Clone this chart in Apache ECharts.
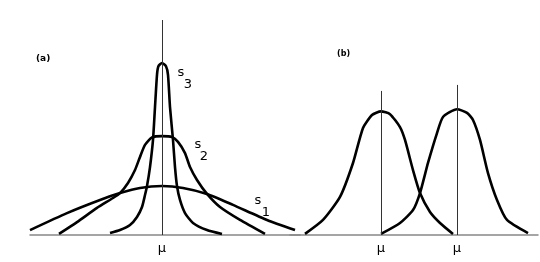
<!DOCTYPE html>
<html>
<head>
<meta charset="utf-8">
<script src="https://cdn.jsdelivr.net/npm/echarts@6/dist/echarts.min.js"></script>
<style>
html,body{margin:0;padding:0;background:#fff;}
#c{width:540px;height:262px;}
</style>
</head>
<body>
<div id="c"></div>
<script>
// Panel (a): x in units relative to mu, y density (arbitrary units, 0..100)
var s1 = [[-6.6,2.3],[-4.75,10.2],[-3.1,16.3],[-2.1,19.5],[-1.1,21.9],[0,22.8],[1.05,21.9],[2.25,19.1],[3.55,14.0],[5.25,7.0],[6.65,2.3]];
var s2 = [[-5.15,0.5],[-4.25,6.0],[-3.25,12.6],[-2.45,17.2],[-2.1,19.5],[-1.7,24.2],[-1.35,30.2],[-1.1,36.3],[-0.85,41.9],[-0.5,45.4],[0,46.0],[0.5,45.6],[0.8,43.3],[1.15,38.1],[1.4,31.6],[1.75,25.6],[2.25,19.1],[2.9,13.0],[3.9,7.0],[5.15,0.5]];
var s3 = [[-2.6,0.9],[-2.1,2.3],[-1.6,4.65],[-1.25,8.4],[-1.0,13.0],[-0.85,18.6],[-0.75,22.8],[-0.6,31.6],[-0.45,44.2],[-0.35,59.5],[-0.25,74.5],[-0.18,78.5],[0,80.0],[0.2,78.5],[0.3,74.5],[0.4,59.5],[0.55,44.2],[0.65,31.6],[0.75,22.8],[0.9,16.3],[1.15,10.2],[1.55,5.6],[2.25,2.3],[3.0,0.5]];
// Panel (b)
var b1 = [[-3.8,0.5],[-2.9,7.0],[-2.05,17.7],[-1.4,33.5],[-0.9,49.8],[-0.45,55.8],[0,57.5],[0.45,56.2],[0.95,50.2],[1.2,44.2],[1.6,30.2],[1.95,19.5],[2.45,10.7],[2.95,5.6],[3.6,0.5]];
var b2 = [[0,0.5],[0.95,5.6],[1.6,11.6],[1.95,19.5],[2.35,33.5],[2.8,47.4],[3.1,54.9],[3.8,58.5],[4.3,56.8],[4.6,53.5],[4.95,44.2],[5.35,28.8],[5.8,16.3],[6.3,7.0],[7.35,0.9]];
// mean positions and guide-line tops
var muA = 0, muATop = 100;
var muB = [0, 3.8], muBTop = [67, 69.8];
// curve labels: [text, subscript, x, y of "s", x, y of subscript]
var curveLabels = [
  ['s','3',0.95,75.3,1.3,70.0],
  ['s','2',1.8,41.9,2.1,36.3],
  ['s','1',4.8,15.8,5.2,10.2]
];
var muText = 'μ';

var chart = echarts.init(document.getElementById('c'), null, {renderer:'canvas'});
var curveStyle = {color:'#000', width:2.6};
function curve(data, gi, extra){
  var o = {type:'line', xAxisIndex:gi, yAxisIndex:gi, data:data, showSymbol:false, symbol:'none',
    smooth:0.2, lineStyle:curveStyle, silent:true, clip:false, animation:false};
  if (extra) for (var k in extra) o[k] = extra[k];
  return o;
}
var labelPts = [];
curveLabels.forEach(function(l){
  labelPts.push({coord:[l[2],l[3]], value:l[0]});
  labelPts.push({coord:[l[4],l[5]], value:l[1]});
});
var muLabelStyle = {show:true, position:'start', formatter:muText, distance:7,
  color:'#000', fontSize:13, fontFamily:'DejaVu Sans'};
var guideStyle = {color:'#333', width:1, type:'solid'};

chart.setOption({
  animation:false,
  backgroundColor:'#fff',
  grid:[
    {left:30, width:270, top:20, bottom:27},
    {left:290, right:2, top:20, bottom:27}
  ],
  xAxis:[
    {gridIndex:0, type:'value', min:-6.6, max:6.9, axisLine:{show:true, onZero:false, lineStyle:{color:'#888', width:1.5}},
      axisTick:{show:false}, axisLabel:{show:false}, splitLine:{show:false}},
    {gridIndex:1, type:'value', min:-4.55, max:7.85, axisLine:{show:true, onZero:false, lineStyle:{color:'#888', width:1.5}},
      axisTick:{show:false}, axisLabel:{show:false}, splitLine:{show:false}}
  ],
  yAxis:[
    {gridIndex:0, type:'value', min:0, max:100, show:false},
    {gridIndex:1, type:'value', min:0, max:100, show:false}
  ],
  title:[
    {text:'(a)', left:31, top:49, textStyle:{fontSize:9, fontWeight:'bold', color:'#000', fontFamily:'DejaVu Sans'}},
    {text:'(b)', left:332, top:45, textStyle:{fontSize:8, fontWeight:'bold', color:'#000', fontFamily:'DejaVu Sans'}}
  ],
  series:[
    curve(s1, 0, {
      markLine:{silent:true, symbol:'none', animation:false, lineStyle:guideStyle, label:muLabelStyle,
        data:[[{coord:[muA,0]},{coord:[muA,muATop]}]]}
    }),
    curve(s2, 0),
    curve(s3, 0, {
      markPoint:{silent:true, symbol:'circle', symbolSize:0, animation:false,
        label:{show:true, position:'inside', formatter:'{c}', color:'#000', fontSize:13, fontFamily:'DejaVu Sans'},
        data:labelPts}
    }),
    curve(b1, 1, {
      markLine:{silent:true, symbol:'none', animation:false, lineStyle:guideStyle, label:muLabelStyle,
        data:[[{coord:[muB[0],0]},{coord:[muB[0],muBTop[0]]}]]}
    }),
    curve(b2, 1, {
      markLine:{silent:true, symbol:'none', animation:false, lineStyle:guideStyle, label:muLabelStyle,
        data:[[{coord:[muB[1],0]},{coord:[muB[1],muBTop[1]]}]]}
    })
  ]
});
</script>
</body>
</html>
